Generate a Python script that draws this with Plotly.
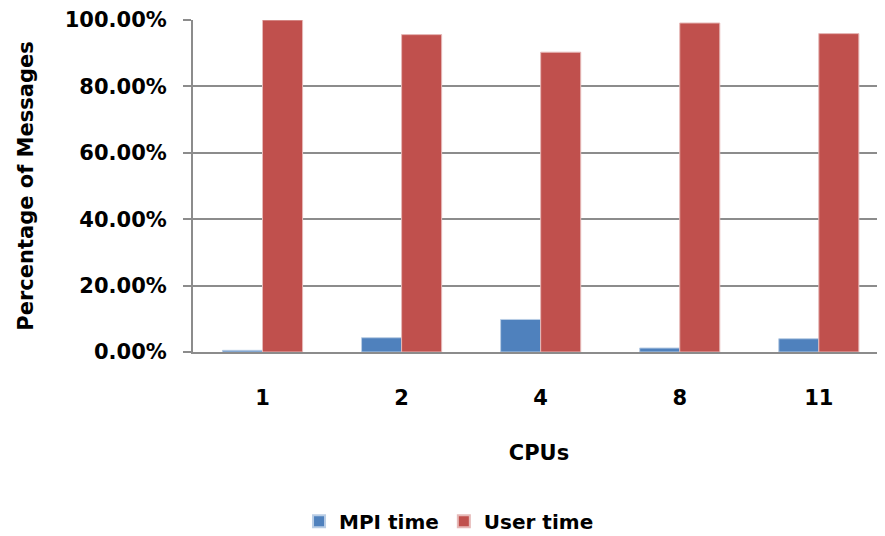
import plotly.graph_objects as go

cpus = ["1", "2", "4", "8", "11"]
mpi_time = [0.005, 0.043, 0.098, 0.012, 0.040]
user_time = [1.000, 0.956, 0.903, 0.991, 0.959]
y_ticks = [0, 0.2, 0.4, 0.6, 0.8, 1.0]

FONT = "DejaVu Sans"
GRID = "#8C8C8C"

fig = go.Figure()
fig.add_trace(go.Bar(
    x=cpus, y=mpi_time, name="MPI time",
    marker=dict(color="#4F81BD", line=dict(color="#B9CDE5", width=1)),
))
fig.add_trace(go.Bar(
    x=cpus, y=user_time, name="User time",
    marker=dict(color="#C0504D", line=dict(color="#E6B9B8", width=1)),
))

# page body has an 8px default margin, so the figure is sized to compensate
fig.update_layout(
    width=877, height=528,
    margin=dict(l=185, r=0, t=12, b=184, autoexpand=False),
    paper_bgcolor="white", plot_bgcolor="white",
    barmode="group", bargap=0.424, bargroupgap=0,
    font=dict(family=FONT, size=21, color="black"),
    showlegend=True,
    legend=dict(
        orientation="h", x=0.37, y=-0.51, xanchor="center", yanchor="middle",
        font=dict(family=FONT, size=20, color="black", weight="bold"),
        itemsizing="constant", traceorder="normal",
    ),
    xaxis=dict(
        type="category", range=[-0.5, 4.476],
        showgrid=False, showline=True, linecolor=GRID, linewidth=2,
        ticks="outside", ticklen=26, tickcolor="rgba(0,0,0,0)",
        tickfont=dict(family=FONT, size=21, color="black", weight="bold"),
        title=dict(text="CPUs", standoff=36,
                   font=dict(family=FONT, size=21, color="black", weight="bold")),
        automargin=False,
    ),
    yaxis=dict(
        range=[0, 1.0], tickvals=y_ticks, tickformat=".2%",
        showgrid=True, gridcolor=GRID, gridwidth=1.5,
        showline=True, linecolor=GRID, linewidth=2,
        ticks="outside", ticklen=8, tickcolor=GRID, tickwidth=1.5,
        ticklabelstandoff=12,
        tickfont=dict(family=FONT, size=21, color="black", weight="bold"),
        title=dict(text="Percentage of Messages", standoff=25,
                   font=dict(family=FONT, size=21, color="black", weight="bold")),
        zeroline=False, automargin=False,
    ),
)

fig.write_html("out.html")
